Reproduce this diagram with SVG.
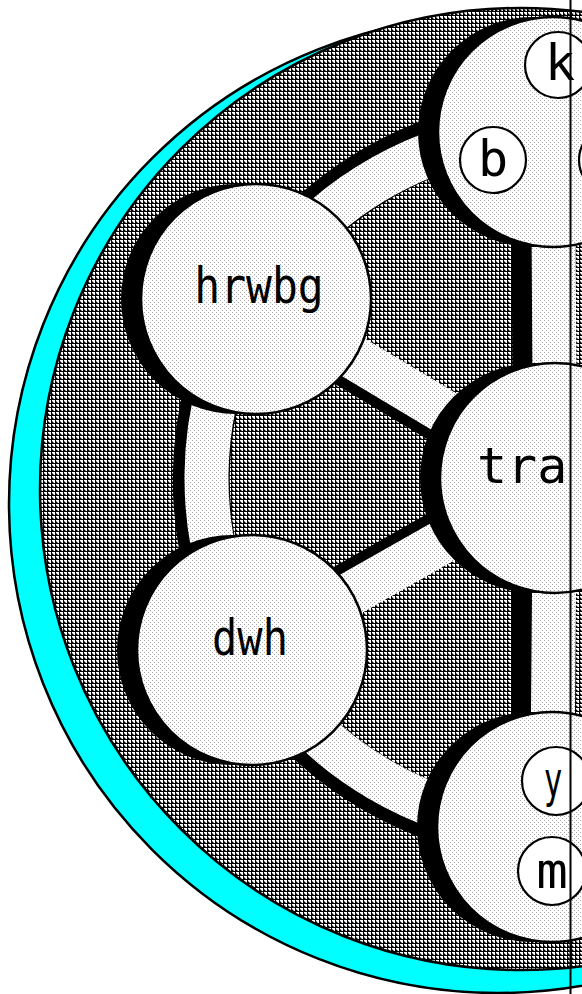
<svg xmlns="http://www.w3.org/2000/svg" width="582" height="994" viewBox="0 0 582 994">
<defs>
<pattern id="hatch" width="4" height="4" patternUnits="userSpaceOnUse">
<rect width="4" height="4" fill="#fff"/>
<path d="M0 1 L3 4 L0 4 Z M3 0 H4 V4 H3 Z M0 3 H4 V4 H0 Z" fill="#000"/>
</pattern>
<pattern id="dots" width="4" height="4" patternUnits="userSpaceOnUse">
<rect width="4" height="4" fill="#fff"/>
<rect x="0" y="0" width="1" height="1" fill="#a8a8a8"/>
<rect x="2" y="2" width="1" height="1" fill="#a8a8a8"/>
</pattern>
</defs>
<style>
.band{fill:none;stroke:url(#dots);stroke-width:44}
.bshadow{fill:none;stroke:#000;stroke-width:44}
.rshadow{fill:none;stroke:#000;stroke-width:57}
.node{fill:url(#dots);stroke:#000;stroke-width:2.5}
.nshadow{fill:#000}
.sub{fill:#fff;stroke:#000;stroke-width:2.2}
.t{font-family:"DejaVu Sans Mono",monospace;font-size:50px;fill:#000}
</style>
<g id="backdrop">
<circle cx="498" cy="504" r="489" fill="#00ffff" stroke="#000" stroke-width="2.5"/>
<circle cx="521" cy="489" r="481" fill="url(#hatch)" stroke="#000" stroke-width="2.5"/>
</g>
<g id="connectors">
<path class="rshadow" d="M251.5 297.5 A354.5 354.5 0 0 1 553 125.5"/>
<path class="rshadow" d="M251.5 297.5 A354.5 354.5 0 0 0 247 653.5"/>
<path class="rshadow" d="M247 653.5 A354.5 354.5 0 0 0 552 833.5"/>
<line class="bshadow" x1="236" y1="299" x2="535" y2="478"/>
<line class="bshadow" x1="232" y1="650" x2="535" y2="478"/>
<line class="bshadow" x1="533" y1="132" x2="535" y2="478"/>
<line class="bshadow" x1="532" y1="827" x2="535" y2="478"/>
<path class="band" d="M256 299 A348 348 0 0 1 553 132"/>
<path class="band" d="M256 299 A348 348 0 0 0 252 650"/>
<path class="band" d="M252 650 A348 348 0 0 0 552 827"/>
<line class="band" x1="256" y1="299" x2="555" y2="478"/>
<line class="band" x1="252" y1="650" x2="555" y2="478"/>
<line class="band" x1="553" y1="132" x2="555" y2="478"/>
<line class="band" x1="552" y1="827" x2="555" y2="478"/>
</g>
<g id="node-top">
<circle class="nshadow" cx="533" cy="132" r="115"/>
<circle class="node" cx="553" cy="132" r="115"/>
<circle class="sub" cx="558" cy="65" r="33"/>
<text class="t" x="560" y="80" text-anchor="middle">k</text>
<circle class="sub" cx="493" cy="160" r="33"/>
<text class="t" x="493" y="176" text-anchor="middle">b</text>
<circle class="sub" cx="612" cy="160" r="33"/>
</g>
<g id="node-hrwbg">
<circle class="nshadow" cx="236" cy="299" r="115"/>
<circle class="node" cx="256" cy="299" r="115"/>
<text class="t" transform="translate(259,303) scale(0.86,1)" text-anchor="middle">hrwbg</text>
</g>
<g id="node-tra">
<circle class="nshadow" cx="535" cy="478" r="115"/>
<circle class="node" cx="555" cy="478" r="115"/>
<text class="t" x="477" y="483" font-size="52">tra</text>
</g>
<g id="node-dwh">
<circle class="nshadow" cx="232" cy="650" r="115"/>
<circle class="node" cx="252" cy="650" r="115"/>
<text class="t" transform="translate(250,655) scale(0.84,1)" text-anchor="middle">dwh</text>
</g>
<g id="node-bottom">
<circle class="nshadow" cx="532" cy="827" r="115"/>
<circle class="node" cx="552" cy="827" r="115"/>
<circle class="sub" cx="556" cy="781" r="34"/>
<text class="t" transform="translate(553,797) scale(0.62,1)" text-anchor="middle">y</text>
<circle class="sub" cx="552" cy="871" r="34"/>
<text class="t" transform="translate(552,888) scale(1.05,1)" text-anchor="middle">m</text>
</g>
<g id="divider">
<line x1="570.5" y1="0" x2="570.5" y2="994" stroke="#000" stroke-width="2"/>
</g>
</svg>
